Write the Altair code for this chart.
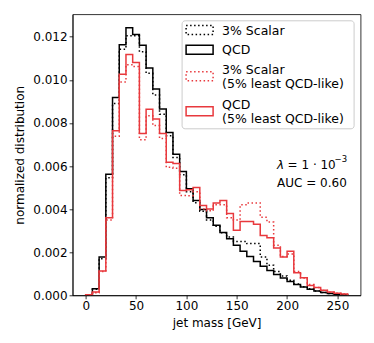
import numpy as np
import pandas as pd
import altair as alt

# ---- data (normalized distributions per jet-mass bin, 0-260 GeV, 39 bins) ----
bin_lo, bin_hi, n_bins = 0.0, 260.0, 39

qcd = [0.00000, 0.00030, 0.00178, 0.00562, 0.00918, 0.01163, 0.01242, 0.01210,
       0.01160, 0.01055, 0.00957, 0.00865, 0.00755, 0.00655, 0.00574, 0.00494,
       0.00440, 0.00398, 0.00360, 0.00325, 0.00292, 0.00262, 0.00232, 0.00205,
       0.00180, 0.00157, 0.00135, 0.00115, 0.00097, 0.00080, 0.00064, 0.00050,
       0.00038, 0.00028, 0.00020, 0.00013, 0.00008, 0.00005, 0.00003]

scalar = [0.00000, 0.00028, 0.00170, 0.00545, 0.00890, 0.01142, 0.01204, 0.01205,
          0.01130, 0.01030, 0.00930, 0.00840, 0.00740, 0.00640, 0.00560, 0.00480,
          0.00430, 0.00390, 0.00350, 0.00320, 0.00290, 0.00270, 0.00250, 0.00250,
          0.00240, 0.00240, 0.00178, 0.00140, 0.00110, 0.00090, 0.00070, 0.00052,
          0.00040, 0.00030, 0.00020, 0.00013, 0.00008, 0.00005, 0.00003]

qcd_sel = [0.00002, 0.00015, 0.00113, 0.00360, 0.00764, 0.01026, 0.01117, 0.01080,
           0.00751, 0.00864, 0.00818, 0.00751, 0.00617, 0.00612, 0.00486, 0.00490,
           0.00500, 0.00417, 0.00401, 0.00428, 0.00440, 0.00380, 0.00302, 0.00342,
           0.00342, 0.00330, 0.00278, 0.00267, 0.00220, 0.00178, 0.00205, 0.00105,
           0.00082, 0.00046, 0.00036, 0.00023, 0.00015, 0.00010, 0.00006]

scalar_sel = [0.00001, 0.00012, 0.00110, 0.00350, 0.00738, 0.00990, 0.01070, 0.01062,
              0.00722, 0.00833, 0.00788, 0.00728, 0.00594, 0.00590, 0.00463, 0.00462,
              0.00480, 0.00400, 0.00392, 0.00420, 0.00420, 0.00360, 0.00350, 0.00420,
              0.00428, 0.00428, 0.00362, 0.00340, 0.00232, 0.00180, 0.00192, 0.00110,
              0.00080, 0.00050, 0.00036, 0.00022, 0.00014, 0.00010, 0.00006]

series_names = ["3% Scalar", "QCD", "3% Scalar (5% least QCD-like)", "QCD (5% least QCD-like)"]
legend_labels = ["3% Scalar", "QCD", "3% Scalar\n(5% least QCD-like)", "QCD\n(5% least QCD-like)"]
series_values = [scalar, qcd, scalar_sel, qcd_sel]
series_colors = ["black", "black", "#e8393d", "#e8393d"]
series_dashed = [True, False, True, False]

x_ticks = [0, 50, 100, 150, 200, 250]
y_ticks = [0.000, 0.002, 0.004, 0.006, 0.008, 0.010, 0.012]
annot_lambda = ["λ", "= 1 · 10", "−3"]
annot_auc = "AUC = 0.60"

# ---- build step-histogram outlines ----
edges = np.linspace(bin_lo, bin_hi, n_bins + 1)
rows = []
for name, vals in zip(series_names, series_values):
    pts = [(edges[0], 0.0)]
    for i, v in enumerate(vals):
        pts.append((edges[i], v))
    pts.append((edges[-1], vals[-1]))
    pts.append((edges[-1], 0.0))
    for k, (x, y) in enumerate(pts):
        rows.append({"series": name, "x": float(x), "y": float(y), "k": k})
df = pd.DataFrame(rows)

ymax = max(max(v) for v in series_values) * 1.05
span = bin_hi - bin_lo
xdom = [bin_lo - 0.05 * span, bin_hi + 0.05 * span]

W, H = 288, 281
FONT = "DejaVu Sans"
LEG_FS = 12.5

x_enc = alt.X("x:Q", scale=alt.Scale(domain=xdom, nice=False, zero=False),
              axis=alt.Axis(values=x_ticks, title="jet mass [GeV]", format="d"))
y_enc = alt.Y("y:Q", scale=alt.Scale(domain=[0, ymax], nice=False),
              axis=alt.Axis(values=y_ticks, title="normalized distribution", format=".3f"))

layers = []
for name, col, dashed in zip(series_names, series_colors, series_dashed):
    mk = dict(interpolate="step-after", color=col, strokeWidth=1.5, clip=True)
    if dashed:
        mk["strokeDash"] = [1.5, 2.5]
    layers.append(
        alt.Chart(df[df.series == name]).mark_line(**mk).encode(
            x=x_enc, y=y_enc, order="k:Q")
    )

# ---- legend (drawn by hand to mimic matplotlib) ----
one = alt.Data(values=[{"a": 1}])
layers.append(
    alt.Chart(one).mark_rect(fill="white", fillOpacity=0.8, stroke="#cccccc",
                             strokeWidth=1, cornerRadius=3).encode(
        x=alt.value(109.5), x2=alt.value(281.5), y=alt.value(6.5), y2=alt.value(114.5))
)
patch_centers = [15.7, 35.5, 62.0, 97.0]
line_gap = 13.6
for lab, col, dashed, yc in zip(legend_labels, series_colors, series_dashed, patch_centers):
    mk = dict(fill=None, fillOpacity=0, stroke=col, strokeWidth=1.5)
    if dashed:
        mk["strokeDash"] = [1.5, 2.5]
    layers.append(
        alt.Chart(one).mark_rect(**mk).encode(
            x=alt.value(113.5), x2=alt.value(140.5),
            y=alt.value(yc - 4.5), y2=alt.value(yc + 4.5))
    )
    parts = lab.split("\n")
    n = len(parts)
    for j, part in enumerate(parts):
        ty = yc + (j - (n - 1) / 2) * line_gap + 0.5
        layers.append(
            alt.Chart(alt.Data(values=[{"t": part}])).mark_text(
                align="left", baseline="middle", font=FONT, fontSize=LEG_FS, color="black").encode(
                text="t:N", x=alt.value(149.5), y=alt.value(ty))
        )

# ---- annotation ----
layers.append(alt.Chart(alt.Data(values=[{"t": annot_lambda[0]}])).mark_text(
    align="left", baseline="middle", font=FONT, fontSize=12, fontStyle="italic", color="black").encode(
    text="t:N", x=alt.value(204.5), y=alt.value(151)))
layers.append(alt.Chart(alt.Data(values=[{"t": annot_lambda[1]}])).mark_text(
    align="left", baseline="middle", font=FONT, fontSize=12, color="black").encode(
    text="t:N", x=alt.value(215), y=alt.value(151)))
layers.append(alt.Chart(alt.Data(values=[{"t": annot_lambda[2]}])).mark_text(
    align="left", baseline="middle", font=FONT, fontSize=8.5, color="black").encode(
    text="t:N", x=alt.value(262), y=alt.value(145)))
layers.append(alt.Chart(alt.Data(values=[{"t": annot_auc}])).mark_text(
    align="left", baseline="middle", font=FONT, fontSize=12, color="black").encode(
    text="t:N", x=alt.value(204.5), y=alt.value(168.5)))

chart = alt.layer(*layers).properties(
    width=W, height=H,
    autosize=alt.AutoSizeParams(type="none"),
    padding={"left": 64.6, "top": 6.3, "right": 4, "bottom": 39},
).configure(font=FONT).configure_view(
    stroke="black", strokeWidth=0.8
).configure_axis(
    grid=False, domainColor="black", domainWidth=0.8, tickColor="black", tickWidth=0.8,
    tickSize=3.5, labelColor="black", labelFont=FONT, labelFontSize=12, titleFont=FONT,
    titleFontSize=12, titleFontWeight="normal", titleColor="black", labelPadding=2,
).configure_axisX(titlePadding=6).configure_axisY(titlePadding=6)

chart.save("out.html", embed_options={"renderer": "svg", "actions": False})
